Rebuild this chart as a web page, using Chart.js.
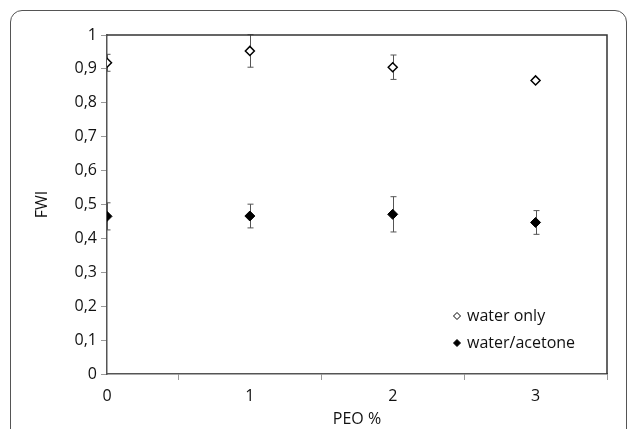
<!DOCTYPE html>
<html>
<head>
<meta charset="utf-8">
<script src="https://cdn.jsdelivr.net/npm/chart.js@4.4.0/dist/chart.umd.min.js"></script>
<style>
  html, body { margin: 0; padding: 0; background: #fff; overflow: hidden; }
  .frame {
    position: absolute; left: 10px; top: 10px; width: 615px; height: 460px;
    border: 1.5px solid #555; border-radius: 12px;
  }
  .wrap { position: absolute; left: 0; top: 0; width: 629px; height: 429px; }
</style>
</head>
<body>
<div class="frame"></div>
<div class="wrap"><canvas id="myChart" width="629" height="429"></canvas></div>
<script>
// PEO % on x, FWI on y
const peo = [0, 1, 2, 3];
const waterOnly = [0.918, 0.953, 0.905, 0.866];
const waterOnlyErr = [0.025, 0.048, 0.036, 0.003];
const waterAcetone = [0.465, 0.466, 0.471, 0.447];
const waterAcetoneErr = [0.040, 0.035, 0.052, 0.035];
const seriesNames = ['water only', 'water/acetone'];

const FONT = "'Open Sans', 'Liberation Sans', sans-serif";

const toPoints = (ys) => peo.map((x, i) => ({ x: x, y: ys[i] }));

// error bars drawn from the scales
const errorBars = {
    id: 'errorBars',
    beforeDatasetsDraw(chart) {
        const { ctx, chartArea } = chart;
        const xs = chart.scales.x, ys = chart.scales.y;
        ctx.save();
        ctx.beginPath();
        ctx.rect(chartArea.left, chartArea.top - 1, chartArea.width, chartArea.height + 2);
        ctx.clip();
        ctx.strokeStyle = '#555';
        ctx.lineWidth = 1;
        chart.data.datasets.forEach(ds => {
            ds.data.forEach((p, i) => {
                const e = ds.err[i];
                const x = Math.round(xs.getPixelForValue(p.x)) + 0.5;
                const y1 = ys.getPixelForValue(p.y + e);
                const y2 = ys.getPixelForValue(p.y - e);
                ctx.beginPath();
                ctx.moveTo(x, y1); ctx.lineTo(x, y2);
                ctx.moveTo(x - 3, y1); ctx.lineTo(x + 3, y1);
                ctx.moveTo(x - 3, y2); ctx.lineTo(x + 3, y2);
                ctx.stroke();
            });
        });
        ctx.restore();
    }
};

// box round the plot and a small legend inside it
const boxAndLegend = {
    id: 'boxAndLegend',
    afterDraw(chart) {
        const { ctx, chartArea } = chart;
        ctx.save();
        ctx.strokeStyle = '#333';
        ctx.lineWidth = 1.5;
        ctx.beginPath();
        ctx.moveTo(chartArea.left, chartArea.top);
        ctx.lineTo(chartArea.right, chartArea.top);
        ctx.lineTo(chartArea.right, chartArea.bottom);
        ctx.stroke();

        ctx.font = '16px ' + FONT;
        ctx.textBaseline = 'middle';
        ctx.textAlign = 'left';
        chart.data.datasets.forEach((ds, i) => {
            const lx = 457, ly = 316 + i * 27;
            ctx.beginPath();
            ctx.moveTo(lx, ly - 3.5); ctx.lineTo(lx + 3.5, ly);
            ctx.lineTo(lx, ly + 3.5); ctx.lineTo(lx - 3.5, ly);
            ctx.closePath();
            ctx.fillStyle = ds.backgroundColor;
            ctx.fill();
            ctx.strokeStyle = '#000';
            ctx.lineWidth = 1;
            ctx.stroke();
            ctx.fillStyle = '#111';
            ctx.fillText(ds.label, lx + 10, ly);
        });
        ctx.restore();
    }
};

const ctx = document.getElementById('myChart').getContext('2d');
new Chart(ctx, {
    type: 'scatter',
    data: {
        datasets: [{
            label: seriesNames[0],
            data: toPoints(waterOnly),
            err: waterOnlyErr,
            pointStyle: 'rectRot',
            pointRadius: 4.5,
            borderWidth: 1.5,
            borderColor: '#000',
            backgroundColor: '#fff'
        }, {
            label: seriesNames[1],
            data: toPoints(waterAcetone),
            err: waterAcetoneErr,
            pointStyle: 'rectRot',
            pointRadius: 5,
            borderWidth: 1,
            borderColor: '#000',
            backgroundColor: '#000'
        }]
    },
    options: {
        responsive: false,
        animation: false,
        layout: { padding: { top: 35, right: 22, left: 0, bottom: 0 } },
        scales: {
            x: {
                type: 'linear',
                min: 0, max: 3.5,
                afterFit(scale) { scale.height = 55; },
                border: { color: '#555', width: 1.5 },
                grid: {
                    drawOnChartArea: false,
                    tickLength: 6,
                    tickColor: (c) => (c.tick && Number.isInteger(c.tick.value)) ? 'rgba(0,0,0,0)' : '#999'
                },
                ticks: {
                    stepSize: 0.5,
                    padding: 7,
                    color: '#111',
                    font: { family: FONT, size: 16 },
                    maxRotation: 0,
                    callback: (v) => Number.isInteger(v) ? String(v) : ''
                },
                title: {
                    display: true,
                    text: 'PEO %',
                    color: '#111',
                    font: { family: FONT, size: 16 },
                    padding: { top: 0, bottom: 0 }
                }
            },
            y: {
                min: 0, max: 1,
                afterFit(scale) { scale.width = 107; },
                border: { color: '#555', width: 1.5 },
                grid: { drawOnChartArea: false, tickLength: 6, tickColor: '#999' },
                ticks: {
                    stepSize: 0.1,
                    padding: 4,
                    color: '#111',
                    font: { family: FONT, size: 16 },
                    callback: (v) => (Math.round(v * 10) / 10).toString().replace('.', ',')
                },
                title: {
                    display: true,
                    text: 'FWI',
                    color: '#111',
                    font: { family: FONT, size: 16 },
                    padding: { top: 33, bottom: 0 }
                }
            }
        },
        plugins: {
            legend: { display: false },
            tooltip: { enabled: false }
        }
    },
    plugins: [errorBars, boxAndLegend]
});
</script>
</body>
</html>
